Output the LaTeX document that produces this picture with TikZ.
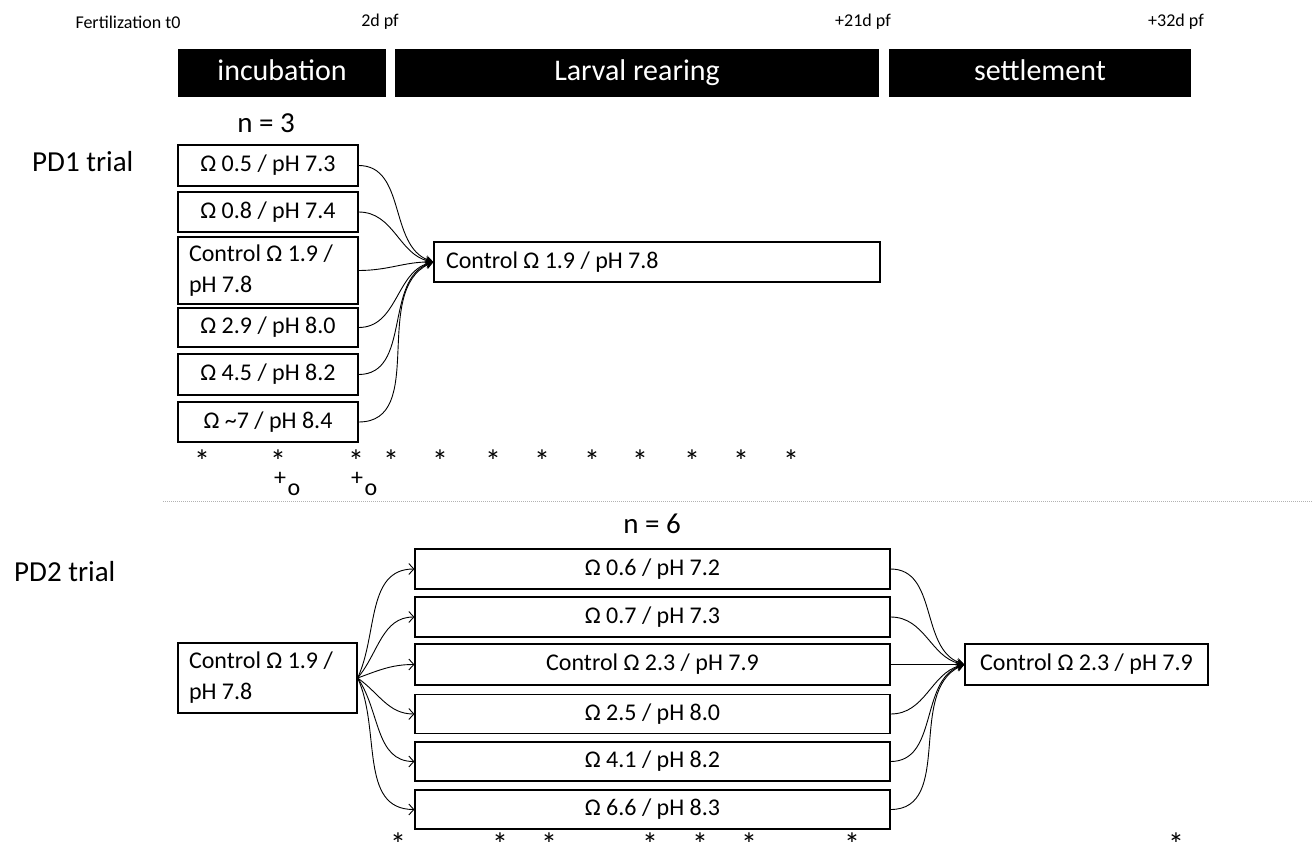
\documentclass[tikz,border=0pt]{standalone}
\usepackage{fontspec}
\setmainfont{Carlito}
\usetikzlibrary{arrows.meta}
\begin{document}
\begin{tikzpicture}[x=1pt,y=-1pt,
  lbl/.style={inner sep=0pt, font=\fontsize{18}{20}\selectfont},
  phase/.style={fill=black, text=white, inner sep=0pt, minimum height=48pt, text height=21pt, text depth=6pt, font=\fontsize{30}{34}\selectfont},
  big/.style={inner sep=0pt, font=\fontsize{29}{32}\selectfont},
  cond/.style={draw, line width=1.2pt, inner sep=0pt, font=\fontsize{24}{31}\selectfont},
  ast/.style={inner sep=0pt, text height=6pt, text depth=6pt, font=\fontsize{32}{32}\selectfont},
  sigmark/.style={inner sep=0pt, font=\fontsize{24}{26}\selectfont},
  conv/.style={line width=0.9pt, -{Stealth[length=8pt,width=8pt]}},
  fan/.style={line width=0.9pt, -{Straight Barb[length=5pt,width=11pt]}},
]
\useasboundingbox (0,0) rectangle (1312,851);
\newcommand{\astx}{\raisebox{-0.42em}{*}}

% time labels
\node[lbl] (t0) at (128,22) {Fertilization t0};
\node[lbl] (t2) at (380,22) {2d pf};
\node[lbl] (t21) at (863,22) {+21d pf};
\node[lbl] (t32) at (1176,22) {+32d pf};

% phase bars
\node[phase, minimum width=208pt] (inc) at (282,73) {incubation};
\node[phase, minimum width=484pt] (lar) at (637,73) {Larval rearing};
\node[phase, minimum width=302pt] (set) at (1040,73) {settlement};

% PD1 trial
\node[big] (n3) at (266,123) {n = 3};
\node[big, anchor=west] (pd1) at (32,162) {PD1 trial};

\node[cond, minimum width=180pt, minimum height=41pt] (a1) at (268,165.5) {Ω 0.5 / pH 7.3};
\node[cond, minimum width=180pt, minimum height=40pt] (a2) at (268,212) {Ω 0.8 / pH 7.4};
\node[cond, minimum width=180pt, minimum height=67pt, text width=158pt, align=flush left] (a3) at (268,270.5) {Control Ω 1.9 /\\pH 7.8};
\node[cond, minimum width=180pt, minimum height=39pt] (a4) at (268,327.5) {Ω 2.9 / pH 8.0};
\node[cond, minimum width=180pt, minimum height=41pt] (a5) at (268,374.5) {Ω 4.5 / pH 8.2};
\node[cond, minimum width=180pt, minimum height=40pt] (a6) at (268,422) {Ω \textasciitilde 7 / pH 8.4};

\node[cond, minimum width=446pt, minimum height=40pt, text width=422pt, align=flush left] (p1) at (657,262) {Control Ω 1.9 / pH 7.8};

\draw[conv] (a1.east) to[out=0,in=160] (p1.west);
\draw[conv] (a2.east) to[out=0,in=168] (p1.west);
\draw[conv] (a3.east) to[out=0,in=180] (p1.west);
\draw[conv] (a4.east) to[out=0,in=195] (p1.west);
\draw[conv] (a5.east) to[out=0,in=200] (p1.west);
\draw[conv] (a6.east) to[out=0,in=205] (p1.west);

\foreach \x [count=\i] in {202,278,356,391,440,493,542,592,640,692,741,791}
  \node[ast] (s\i) at (\x,459) {\astx};
\node[sigmark] (plA) at (280,479) {+};
\node[sigmark] (oA) at (294,490) {o};
\node[sigmark] (plB) at (357,479) {+};
\node[sigmark] (oB) at (371,490) {o};

% separator
\coordinate (sepL) at (163,501);
\coordinate (sepR) at (1312,501);
\draw[gray!60, line width=1pt, densely dotted] (sepL) -- (sepR);

% PD2 trial
\node[big] (n6) at (652,524) {n = 6};
\node[big, anchor=west] (pd2) at (14,572) {PD2 trial};

\node[cond, minimum width=179pt, minimum height=70pt, text width=157pt, align=flush left] (l) at (267.5,678) {Control Ω 1.9 /\\pH 7.8};

\node[cond, minimum width=475pt, minimum height=40pt] (m1) at (652.5,569) {Ω 0.6 / pH 7.2};
\node[cond, minimum width=475pt, minimum height=40pt] (m2) at (652.5,617) {Ω 0.7 / pH 7.3};
\node[cond, minimum width=475pt, minimum height=41pt] (m3) at (652.5,664.5) {Control Ω 2.3 / pH 7.9};
\node[cond, minimum width=475pt, minimum height=39pt] (m4) at (652.5,714) {Ω 2.5 / pH 8.0};
\node[cond, minimum width=475pt, minimum height=39pt] (m5) at (652.5,761.5) {Ω 4.1 / pH 8.2};
\node[cond, minimum width=475pt, minimum height=39pt] (m6) at (652.5,809.5) {Ω 6.6 / pH 8.3};

\node[cond, minimum width=243pt, minimum height=41pt] (r) at (1086.5,664.5) {Control Ω 2.3 / pH 7.9};

\draw[fan] (l.east) to[out=65,in=180] (m1.west);
\draw[fan] (l.east) to[out=50,in=180] (m2.west);
\draw[fan] (l.east) to[out=20,in=180] (m3.west);
\draw[fan] (l.east) to[out=-35,in=180] (m4.west);
\draw[fan] (l.east) to[out=-55,in=180] (m5.west);
\draw[fan] (l.east) to[out=-65,in=180] (m6.west);

\draw[conv] (m1.east) to[out=0,in=160] (r.west);
\draw[conv] (m2.east) to[out=0,in=168] (r.west);
\draw[conv] (m3.east) to[out=0,in=180] (r.west);
\draw[conv] (m4.east) to[out=0,in=195] (r.west);
\draw[conv] (m5.east) to[out=0,in=200] (r.west);
\draw[conv] (m6.east) to[out=0,in=205] (r.west);

\foreach \x [count=\i] in {398,500,549,650,700,749,852,1176}
  \node[ast] (b\i) at (\x,842) {\astx};
\end{tikzpicture}
\end{document}
